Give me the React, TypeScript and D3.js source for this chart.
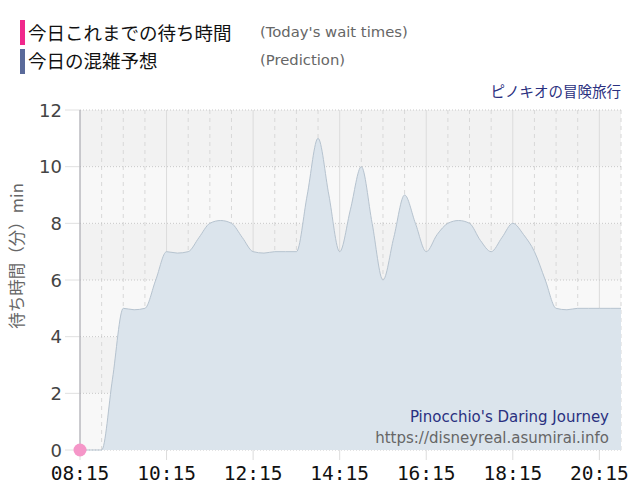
import React from "react";
import * as d3 from "d3";

const times: string[] = [
  "08:15","08:30","08:45","09:00","09:15","09:30","09:45","10:00","10:15","10:30",
  "10:45","11:00","11:15","11:30","11:45","12:00","12:15","12:30","12:45","13:00",
  "13:15","13:30","13:45","14:00","14:15","14:30","14:45","15:00","15:15","15:30",
  "15:45","16:00","16:15","16:30","16:45","17:00","17:15","17:30","17:45","18:00",
  "18:15","18:30","18:45","19:00","19:15","19:30","19:45","20:00","20:15","20:30","20:45",
];
const prediction: number[] = [
  0, 0, 0, 2.5, 5, 4.95, 5, 6, 7, 6.95,
  7, 7.5, 8, 8.1, 8, 7.5, 7, 6.95, 7, 7,
  7, 9, 11, 9, 7, 8.5, 10, 8, 6, 7.5,
  9, 8, 7, 7.6, 8, 8.1, 8, 7.4, 7, 7.5,
  8, 7.6, 7, 6, 5, 4.95, 5, 5, 5, 5, 5,
];
const todayTimes: string[] = ["08:15"];
const todayValues: number[] = [0];
const xTickLabels: string[] = ["08:15", "10:15", "12:15", "14:15", "16:15", "18:15", "20:15"];
const yTicks: number[] = [0, 2, 4, 6, 8, 10, 12];

const toMin = (s: string) => {
  const [h, m] = s.split(":").map(Number);
  return h * 60 + m;
};

export default function App() {
  const W = 640, H = 500;
  const left = 80, right = 621, top = 110, bottom = 450;
  const x = d3.scaleLinear().domain([toMin("08:15"), toMin("20:45")]).range([left, right]);
  const y = d3.scaleLinear().domain([0, 12]).range([bottom, top]);

  const data = times.map((t, i) => ({ t: toMin(t), v: prediction[i] }));
  const area = d3.area<{ t: number; v: number }>()
    .x(d => x(d.t)).y0(y(0)).y1(d => y(d.v)).curve(d3.curveMonotoneX);
  const line = d3.line<{ t: number; v: number }>()
    .x(d => x(d.t)).y(d => y(d.v)).curve(d3.curveMonotoneX);

  const grid30 = d3.range(toMin("08:15"), toMin("20:45") + 1, 30);
  const tickMins = xTickLabels.map(toMin);
  const bands = d3.range(0, 12, 2);

  const jp = "'Noto Sans CJK JP', sans-serif";
  const sans = "'DejaVu Sans', Verdana, sans-serif";

  return (
    <svg width={W} height={H} style={{ position: "absolute", left: 0, top: 0, background: "#fff" }}>
      {bands.map(b => (
        <rect key={b} x={left} width={right - left} y={y(b + 2)} height={y(b) - y(b + 2)}
          fill={(b / 2) % 2 === 1 ? "#f2f2f2" : "#f8f8f8"} />
      ))}
      {grid30.map(m => {
        const isTick = tickMins.includes(m);
        return isTick ? (
          <line key={m} x1={x(m)} x2={x(m)} y1={top} y2={bottom + 10} stroke="#dcdcdc" strokeWidth={1} />
        ) : (
          <line key={m} x1={x(m)} x2={x(m)} y1={top} y2={bottom} stroke="#d8d8d8" strokeWidth={1} strokeDasharray="4,4" />
        );
      })}
      {yTicks.map(v => (
        <g key={v}>
          <line x1={left} x2={right} y1={y(v)} y2={y(v)} stroke="#c8c8c8" strokeDasharray="1,2" />
          <line x1={left - 15} x2={left} y1={y(v)} y2={y(v)} stroke="#e0e0e0" />
        </g>
      ))}
      <path d={area(data) || ""} fill="#dbe4ec" />
      <path d={line(data) || ""} fill="none" stroke="#b6c3cf" strokeWidth={1} />
      <line x1={left} x2={left} y1={top} y2={bottom} stroke="#a8a8b0" />
      {todayTimes.map((t, i) => (
        <circle key={t} cx={x(toMin(t))} cy={y(todayValues[i])} r={6.5} fill="#f596c8" />
      ))}
      {yTicks.map(v => (
        <text key={v} x={62} y={y(v) + 6.5} textAnchor="end" fontFamily={sans} fontSize={18} fill="#444">{v}</text>
      ))}
      {xTickLabels.map(l => (
        <text key={l} x={x(toMin(l))} y={480} textAnchor="middle" fontFamily="'DejaVu Sans Mono', monospace" fontSize={19.5} fill="#111">{l}</text>
      ))}
      <text transform="translate(23,256) rotate(-90)" textAnchor="middle" fontFamily={jp} fontSize={16.5} fill="#666">待ち時間（分）min</text>
      <rect x={20} y={20} width={5} height={25} fill="#f0288c" />
      <rect x={20} y={49} width={5} height={25} fill="#5a6a9a" />
      <text x={28} y={40} fontFamily={jp} fontSize={18.5} fill="#111">今日これまでの待ち時間</text>
      <text x={28} y={68} fontFamily={jp} fontSize={18.5} fill="#111">今日の混雑予想</text>
      <text x={260} y={37} fontFamily={sans} fontSize={14.8} fill="#666">(Today's wait times)</text>
      <text x={260} y={65} fontFamily={sans} fontSize={14.8} fill="#666">(Prediction)</text>
      <text x={621} y={97} textAnchor="end" fontFamily={jp} fontSize={14.5} fill="#2a3080">ピノキオの冒険旅行</text>
      <text x={609} y={422} textAnchor="end" fontFamily={sans} fontSize={15} fill="#2a3080">Pinocchio's Daring Journey</text>
      <text x={609} y={443} textAnchor="end" fontFamily={sans} fontSize={15} fill="#666">https://disneyreal.asumirai.info</text>
    </svg>
  );
}
